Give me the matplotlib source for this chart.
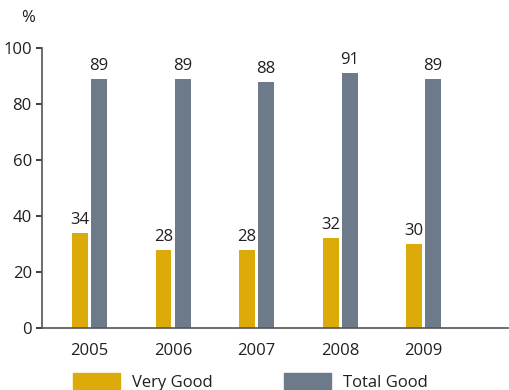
import numpy as np
import matplotlib.pyplot as plt
from matplotlib.patches import Patch

plt.rcParams['font.family'] = ['Open Sans', 'DejaVu Sans']

years = ['2005', '2006', '2007', '2008', '2009']
very_good = [34, 28, 28, 32, 30]
total_good = [89, 89, 88, 91, 89]

yellow = '#DCAB0A'
grey = '#6C7A8A'
txt = '#231F20'
fs = 12

fig = plt.figure(figsize=(5.09, 3.90), dpi=100)
ax = fig.add_axes([41.5/509, 1-328/390, (508-41.5)/509, 280/390])

x = np.arange(len(years))
w = 0.19
off = 0.114
b1 = ax.bar(x - off, very_good, w, color=yellow)
b2 = ax.bar(x + off, total_good, w, color=grey)
for bars, vals in ((b1, very_good), (b2, total_good)):
    for r, v in zip(bars, vals):
        ax.text(r.get_x() + r.get_width()/2, v + 1.8, str(v), ha='center', va='bottom',
                fontsize=fs, color=txt)

ax.set_xlim(-0.575, 5.01)
ax.set_ylim(0, 100)
ax.set_yticks([0, 20, 40, 60, 80, 100])
ax.set_xticks(x)
ax.set_xticklabels(years)
ax.tick_params(axis='x', length=0, pad=11, labelsize=fs, colors=txt)
ax.tick_params(axis='y', length=4, width=1.2, pad=3, labelsize=fs, colors=txt)
for s in ('top', 'right'):
    ax.spines[s].set_visible(False)
ax.spines['left'].set_color('#555555')
ax.spines['left'].set_linewidth(1.2)
ax.spines['bottom'].set_color('#555555')
ax.spines['bottom'].set_linewidth(1.2)

fig.text(28/509, 1-18/390, '%', ha='center', va='center', fontsize=fs, color=txt)

handles = [Patch(color=yellow, label='Very Good'), Patch(color=grey, label='Total Good')]
fig.legend(handles=handles, loc='upper left', bbox_to_anchor=(73/509, 1-373/390),
           ncol=2, frameon=False, handlelength=2.8, handleheight=1.1,
           handletextpad=0.72, columnspacing=4.3, borderpad=0, borderaxespad=0,
           fontsize=fs, labelcolor=txt)

fig.savefig('out.png', dpi=100)
